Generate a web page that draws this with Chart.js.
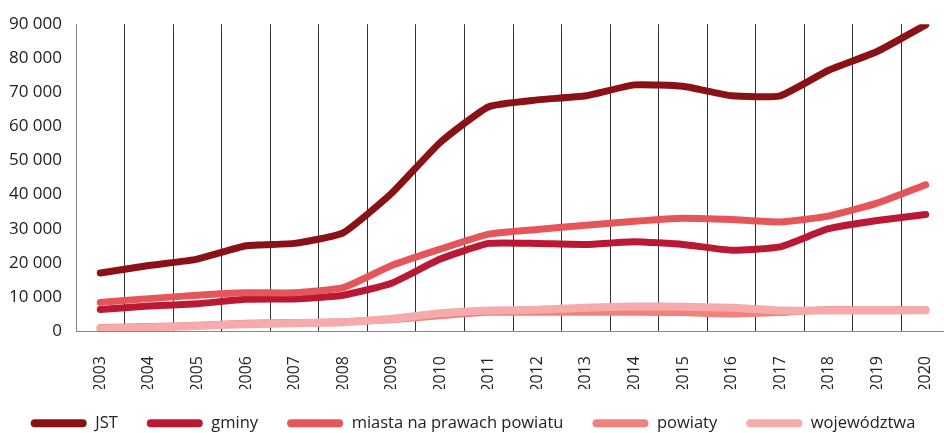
<!DOCTYPE html>
<html lang="pl">
<head>
<meta charset="utf-8">
<title>JST</title>
<script src="https://cdn.jsdelivr.net/npm/chart.js@4/dist/chart.umd.min.js"></script>
<style>
  html, body { margin: 0; padding: 0; background: #fff; overflow: hidden; }
  #wrap { width: 952px; height: 433px; position: relative; }
</style>
</head>
<body>
<div id="wrap"><canvas id="wykres"></canvas></div>
<script>
const lata = ['2003', '2004', '2005', '2006', '2007', '2008', '2009', '2010', '2011', '2012',
              '2013', '2014', '2015', '2016', '2017', '2018', '2019', '2020'];
const jst = [17000, 19200, 21100, 25000, 25700, 28800, 40400, 55300, 65800, 67800,
             69000, 72200, 71800, 69000, 69000, 76500, 82000, 89800];
const gminy = [6300, 7300, 8000, 9300, 9400, 10500, 14000, 21100, 25700, 25700,
               25400, 26200, 25400, 23700, 24700, 30000, 32400, 34200];
const miasta = [8400, 9500, 10500, 11200, 11200, 12700, 19200, 24000, 28400, 29800,
                31000, 32200, 33100, 32700, 32000, 33700, 37500, 42900];
const powiaty = [1000, 1300, 1700, 2300, 2500, 2700, 3300, 4500, 5500, 5500,
                 5500, 5500, 5400, 5000, 5400, 6300, 6200, 6200];
const wojewodztwa = [700, 1000, 1500, 2000, 2300, 2600, 3600, 5200, 6000, 6200,
                     6800, 7200, 7100, 6800, 6000, 6000, 6000, 6100];
const yTicks = [0, 10000, 20000, 30000, 40000, 50000, 60000, 70000, 80000, 90000];

const serie = [
    { label: 'JST', data: jst, kolor: '#8a1115' },
    { label: 'gminy', data: gminy, kolor: '#ba1833' },
    { label: 'miasta na prawach powiatu', data: miasta, kolor: '#e5565b' },
    { label: 'powiaty', data: powiaty, kolor: '#f0827e' },
    { label: 'województwa', data: wojewodztwa, kolor: '#f6aaab' }
];

Chart.defaults.font.family = "'Open Sans', sans-serif";
Chart.defaults.color = '#222';

// legenda: szeroki odstęp między pozycjami, ale niska ramka, lekko podniesiona
const niskaLegenda = {
    id: 'niskaLegenda',
    beforeLayout(chart) {
        const lg = chart.legend;
        if (lg && !lg._niska) {
            const fit = Object.getPrototypeOf(lg).fit;
            lg.fit = function () { fit.call(this); this.height = 44; };
            lg._niska = true;
        }
    },
    afterLayout(chart) {
        const lg = chart.legend;
        if (lg) { lg.top -= 7; lg.height += 7; }
    }
};

const ctx = document.getElementById('wykres');
new Chart(ctx, {
    type: 'line',
    data: {
        labels: lata,
        datasets: serie.map((s, i) => ({
            label: s.label,
            data: s.data,
            borderColor: s.kolor,
            backgroundColor: s.kolor,
            borderWidth: i === 4 ? 8 : 7,
            borderCapStyle: 'round',
            borderJoinStyle: 'round',
            pointRadius: 0,
            tension: 0.15,
            order: serie.length - i
        }))
    },
    options: {
        responsive: true,
        maintainAspectRatio: false,
        animation: false,
        layout: { padding: { top: 11, right: 2, left: 0, bottom: 0 } },
        scales: {
            x: {
                offset: true,
                grid: { offset: true, color: '#333', lineWidth: 1, drawTicks: false },
                border: { color: '#888' },
                ticks: { minRotation: 90, maxRotation: 90, padding: 25, font: { size: 16 }, color: '#222' },
                afterFit: (scale) => {
                    scale.height = 58;
                    scale.paddingLeft = 0;
                    scale.paddingRight = 0;
                }
            },
            y: {
                min: 0,
                max: 90000,
                grid: { display: false, drawTicks: false },
                border: { color: '#888' },
                afterBuildTicks: (scale) => { scale.ticks = yTicks.map(v => ({ value: v })); },
                ticks: {
                    padding: 14,
                    font: { size: 17 },
                    color: '#222',
                    callback: (v) => String(v).replace(/\B(?=(\d{3})+(?!\d))/g, ' ')
                },
                afterFit: (scale) => { scale.width = 76; }
            }
        },
        plugins: {
            legend: {
                position: 'bottom',
                reverse: true,
                labels: {
                    usePointStyle: true,
                    pointStyle: 'line',
                    pointStyleWidth: 48,
                    padding: 33,
                    font: { size: 16.5 },
                    color: '#222',
                    generateLabels: (chart) => {
                        const items = Chart.defaults.plugins.legend.labels.generateLabels(chart);
                        return items.map(it => Object.assign(it, { text: ' ' + it.text, lineCap: 'round', lineWidth: 8 }));
                    }
                }
            },
            tooltip: { enabled: false }
        }
    },
    plugins: [niskaLegenda]
});
</script>
</body>
</html>
